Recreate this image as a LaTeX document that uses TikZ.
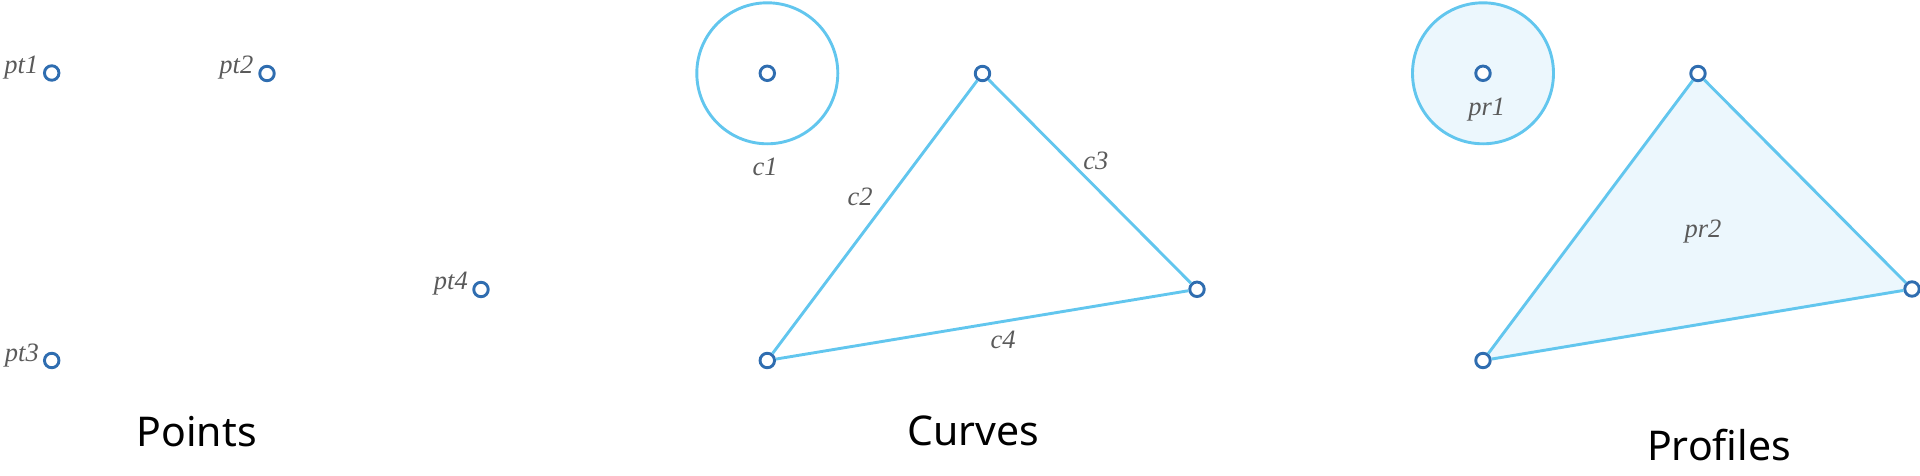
\documentclass[tikz,border=0pt]{standalone}
\usepackage{fontspec}
\usetikzlibrary{backgrounds}
\setmainfont{Liberation Serif}
\newfontfamily\titlefont{Noto Sans}
\definecolor{ptblue}{HTML}{2F6DB0}
\definecolor{lineblue}{HTML}{62C6EE}
\definecolor{fillblue}{HTML}{ECF7FD}
\definecolor{labelgray}{HTML}{5A5A5A}
\tikzset{
  ptmark/.style={circle,draw=ptblue,fill=white,line width=2.9pt,minimum size=14.5pt,inner sep=0pt},
  curveline/.style={draw=lineblue,line width=2.9pt},
  ringshape/.style={circle,draw=lineblue,line width=2.9pt,minimum size=141pt,inner sep=0pt},
  lbl/.style={font=\fontsize{26.5}{26.5}\selectfont\itshape,text=labelgray,inner sep=0pt},
  ttl/.style={font=\titlefont\fontsize{41}{41}\selectfont,text=black,inner sep=0pt,anchor=base}
}
\begin{document}
\begin{tikzpicture}[x=1pt,y=-1pt]
\useasboundingbox (0,0) rectangle (1920,476);
% ---------- Points ----------
\node[ptmark] (p1) at (51.7,73) {};
\node[ptmark] (p2) at (267,73.5) {};
\node[ptmark] (p3) at (51.7,360.5) {};
\node[ptmark] (p4) at (481,289.5) {};
\node[lbl,anchor=east] (l1) at (38.5,68) {pt1};
\node[lbl,anchor=east] (l2) at (253.5,67.5) {pt2};
\node[lbl,anchor=east] (l3) at (39,356) {pt3};
\node[lbl,anchor=east] (l4) at (468,284) {pt4};
\node[ttl] (tp) at (196.7,446.5) {Points};
% ---------- Curves ----------
\node[ringshape] (c1ring) at (767.3,73.3) {};
\node[ptmark] (cc) at (c1ring.center) {};
\node[ptmark] (cv1) at (982.5,73.5) {};
\node[ptmark] (cv2) at (1197,289.3) {};
\node[ptmark] (cv3) at (767.3,360.5) {};
\draw[curveline] (cv1) -- (cv2);
\draw[curveline] (cv2) -- (cv3);
\draw[curveline] (cv3) -- (cv1);
\node[lbl] (lc1) at (765,166.5) {c1};
\node[lbl] (lc2) at (860,196.5) {c2};
\node[lbl] (lc3) at (1095.8,160.5) {c3};
\node[lbl] (lc4) at (1003,340) {c4};
\node[ttl] (tc) at (973.3,445.5) {Curves};
% ---------- Profiles ----------
\node[ringshape,fill=fillblue] (r1ring) at (1483,73.3) {};
\node[ptmark] (rc) at (r1ring.center) {};
\node[ptmark] (rv1) at (1698,73.5) {};
\node[ptmark] (rv2) at (1912,289) {};
\node[ptmark] (rv3) at (1483,360.5) {};
\begin{scope}[on background layer]
\path[fill=fillblue] (rv1.center) -- (rv2.center) -- (rv3.center) -- cycle;
\end{scope}
\draw[curveline] (rv1) -- (rv2);
\draw[curveline] (rv2) -- (rv3);
\draw[curveline] (rv3) -- (rv1);
\node[lbl] (lr1) at (1486.7,110) {pr1};
\node[lbl] (lr2) at (1703,231.5) {pr2};
\node[ttl] (tr) at (1719,460) {Profiles};
\end{tikzpicture}
\end{document}
